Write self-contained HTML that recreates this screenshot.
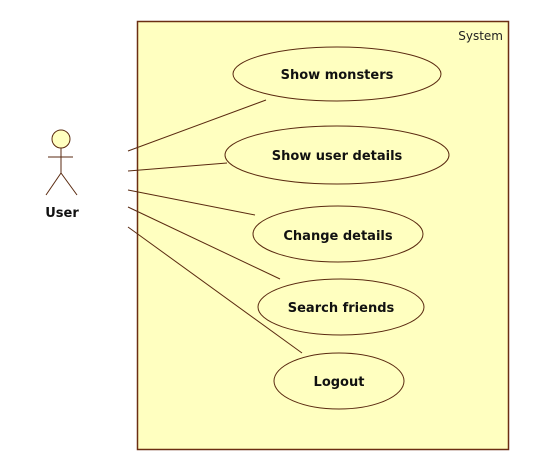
<!DOCTYPE html>
<html><head><style>
html,body{margin:0;padding:0;background:#fff;}
svg{display:block;}
text{font-family:"DejaVu Sans","Liberation Sans",sans-serif;}
</style></head><body>
<svg width="550" height="469" viewBox="0 0 550 469">
<rect x="137.5" y="21.5" width="371" height="428" fill="#ffffc0" stroke="#6b2e12" stroke-width="1.5"/>
<text x="503" y="40" font-size="12" text-anchor="end" fill="#222">System</text>
<g fill="#ffffc0" stroke="#5a2a10" stroke-width="1">
<ellipse cx="337" cy="74" rx="104" ry="27"/>
<ellipse cx="337" cy="155" rx="112" ry="29"/>
<ellipse cx="338" cy="234" rx="85" ry="28"/>
<ellipse cx="341" cy="307" rx="83" ry="28"/>
<ellipse cx="339" cy="381" rx="65" ry="28"/>
</g>
<g font-size="13" font-weight="bold" text-anchor="middle" fill="#111">
<text x="337" y="79">Show monsters</text>
<text x="337" y="160">Show user details</text>
<text x="338" y="240">Change details</text>
<text x="341" y="312">Search friends</text>
<text x="339" y="386">Logout</text>
</g>
<g stroke="#5a2a10" stroke-width="1" fill="none">
<line x1="128" y1="151" x2="266" y2="100"/>
<line x1="128" y1="171" x2="227" y2="163"/>
<line x1="128" y1="190" x2="255" y2="215"/>
<line x1="128" y1="207" x2="280" y2="279"/>
<line x1="128" y1="227" x2="302" y2="353"/>
<circle cx="61" cy="139" r="9" fill="#ffffc0"/>
<line x1="61" y1="148" x2="61" y2="173"/>
<line x1="48" y1="157" x2="73" y2="157"/>
<line x1="61" y1="173" x2="46" y2="195"/>
<line x1="61" y1="173" x2="77" y2="195"/>
</g>
<text x="62" y="217" font-size="13" font-weight="bold" text-anchor="middle" fill="#111">User</text>
</svg>
</body></html>
